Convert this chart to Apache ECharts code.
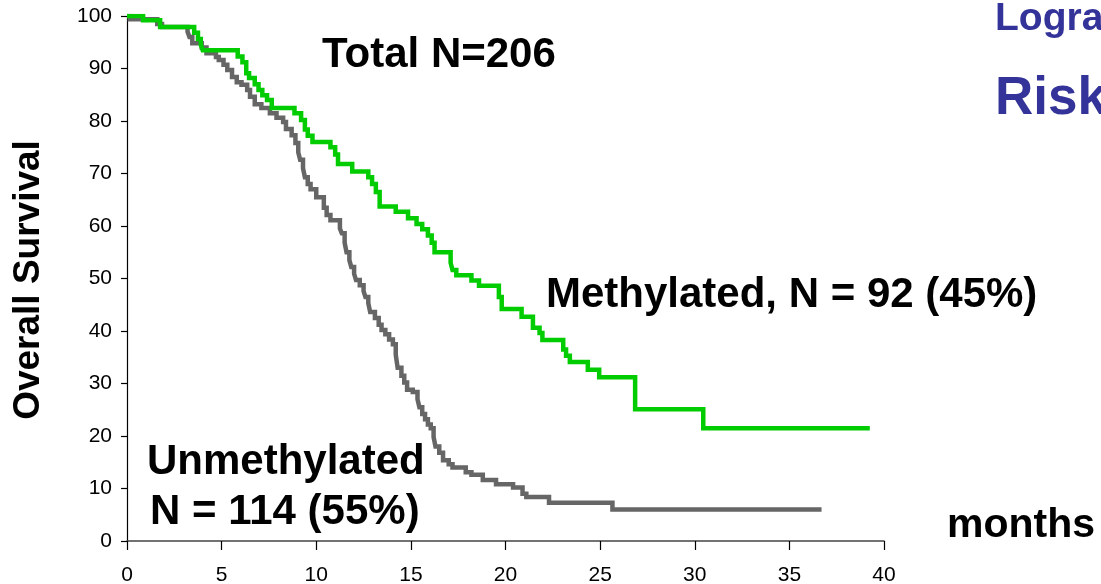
<!DOCTYPE html>
<html>
<head>
<meta charset="utf-8">
<script src="https://cdn.jsdelivr.net/npm/echarts@6/dist/echarts.min.js"></script>
<style>
html,body{margin:0;padding:0;background:#fff;}
#chart{width:1101px;height:584px;}
</style>
</head>
<body>
<div id="chart"></div>
<script>
// Kaplan-Meier step data (months, % surviving)
var methylatedTime = [0, 0.85, 1.75, 3.55, 3.75, 3.9, 4.0, 5.85, 6.1, 6.3, 6.45, 6.75, 6.95, 7.15, 7.4, 7.65, 8.85, 9.2, 9.4, 9.55, 9.8, 10.75, 11.0, 11.15, 11.9, 12.75, 12.95, 13.15, 13.35, 14.2, 14.85, 15.3, 15.6, 15.9, 16.1, 16.25, 17.1, 17.2, 17.4, 18.2, 18.6, 19.65, 19.8, 20.85, 21.45, 21.8, 21.95, 23.05, 23.2, 23.4, 24.35, 24.95, 26.85, 30.45, 39.25];
var methylatedSurv = [100, 99.2, 97.9, 96.8, 95.6, 94.5, 93.5, 92.3, 91.2, 89.1, 88.2, 87.0, 85.9, 84.9, 84.0, 82.5, 81.5, 80.2, 78.4, 77.2, 76.0, 75.0, 73.6, 71.8, 70.4, 69.3, 68.0, 66.5, 63.7, 62.7, 61.5, 60.4, 59.4, 58.2, 56.8, 55.0, 53.0, 51.6, 50.6, 49.6, 48.6, 46.5, 44.2, 42.7, 40.6, 39.6, 38.3, 36.5, 35.3, 34.1, 32.6, 31.2, 25.1, 21.5, 21.5];

var unmethylatedTime = [0, 0.15, 1.6, 1.85, 3.2, 3.3, 3.45, 3.95, 4.2, 4.7, 4.85, 5.1, 5.3, 5.55, 5.8, 6.05, 6.35, 6.5, 6.75, 7.1, 7.55, 7.9, 8.25, 8.4, 8.7, 8.9, 9.05, 9.15, 9.3, 9.4, 9.55, 9.7, 10.0, 10.4, 10.55, 10.75, 11.25, 11.35, 11.5, 11.6, 11.75, 11.85, 12.0, 12.1, 12.3, 12.5, 12.6, 12.75, 12.85, 13.1, 13.3, 13.45, 13.65, 13.85, 14.05, 14.2, 14.3, 14.5, 14.65, 14.8, 15.1, 15.35, 15.45, 15.6, 15.75, 15.9, 16.05, 16.2, 16.3, 16.5, 16.7, 17.0, 17.2, 17.9, 18.2, 18.8, 19.5, 20.4, 20.9, 21.1, 22.3, 25.65, 36.7];
var unmethylatedSurv = [100, 99.4, 98.5, 97.9, 97.0, 96.0, 94.8, 94.0, 92.9, 92.2, 91.6, 90.7, 89.7, 88.4, 87.4, 86.9, 85.9, 84.6, 83.2, 82.5, 81.5, 80.6, 79.8, 78.5, 77.3, 75.8, 74.0, 72.6, 71.0, 69.3, 68.0, 67.0, 65.5, 63.5, 62.1, 61.1, 59.5, 58.6, 56.8, 55.0, 53.5, 52.2, 50.9, 49.7, 48.7, 47.6, 46.5, 45.3, 43.6, 42.5, 41.2, 40.2, 39.4, 38.4, 37.5, 35.5, 33.0, 31.5, 30.2, 28.8, 28.4, 27.0, 25.5, 24.2, 23.2, 22.2, 21.5, 19.8, 18.0, 16.8, 15.4, 14.6, 14.0, 13.1, 12.6, 11.6, 10.8, 10.2, 9.0, 8.4, 7.3, 6.0, 6.0];

var xAxisRange = [0, 40, 5];   // min, max, interval (months)
var yAxisRange = [0, 100, 10]; // min, max, interval (%)

var FONT = '"Liberation Sans", Arial, sans-serif';

function pairs(t, s) {
  var out = [];
  for (var i = 0; i < t.length; i++) out.push([t[i], s[i]]);
  return out;
}

var chart = echarts.init(document.getElementById('chart'), null, {renderer: 'canvas'});

function txt(x, y, text, size, color, align, rotation) {
  var o = {
    type: 'text', x: x, y: y, silent: true,
    style: {
      text: text, fill: color || '#000',
      font: 'bold ' + size + 'px ' + FONT,
      align: align || 'left', verticalAlign: 'middle'
    }
  };
  if (rotation) o.rotation = rotation;
  return o;
}

var option = {
  animation: false,
  backgroundColor: '#ffffff',
  grid: {left: 127, right: 217, top: 16, bottom: 43, containLabel: false, outerBoundsMode: 'none'},
  xAxis: {
    type: 'value',
    min: xAxisRange[0], max: xAxisRange[1], interval: xAxisRange[2],
    axisLine: {show: true, onZero: false, lineStyle: {color: '#444', width: 1.5}},
    axisTick: {show: true, length: 9, lineStyle: {color: '#000', width: 1.2}},
    axisLabel: {margin: 24, color: '#000', fontSize: 21, fontFamily: FONT},
    splitLine: {show: false}
  },
  yAxis: {
    type: 'value',
    min: yAxisRange[0], max: yAxisRange[1], interval: yAxisRange[2],
    offset: 3,
    axisLine: {show: true, lineStyle: {color: '#000', width: 1.2}},
    axisTick: {show: true, length: 6, lineStyle: {color: '#000', width: 1.2}},
    axisLabel: {margin: 12, color: '#000', fontSize: 21, fontFamily: FONT},
    splitLine: {show: false}
  },
  series: [
    {
      name: 'Unmethylated',
      type: 'line', step: 'end', showSymbol: false, symbol: 'none',
      data: pairs(unmethylatedTime, unmethylatedSurv),
      lineStyle: {color: '#666666', width: 4.5, cap: 'butt', join: 'miter'},
      z: 2
    },
    {
      name: 'Methylated',
      type: 'line', step: 'end', showSymbol: false, symbol: 'none',
      data: pairs(methylatedTime, methylatedSurv),
      lineStyle: {color: '#00cc00', width: 4.5, cap: 'butt', join: 'miter'},
      z: 3
    }
  ],
  graphic: [
    txt(29, 280, 'Overall Survival', 37, '#000', 'center', Math.PI / 2),
    txt(322, 55, 'Total N=206', 42, '#000'),
    txt(546, 295, 'Methylated, N = 92 (45%)', 42, '#000'),
    txt(147, 462, 'Unmethylated', 42, '#000'),
    txt(150, 512, 'N = 114 (55%)', 42, '#000'),
    txt(947, 526, 'months', 41, '#000'),
    txt(995, 19, 'Logrank', 39, '#333399'),
    txt(995, 99, 'Risk', 53, '#333399')
  ]
};
chart.setOption(option);
</script>
</body>
</html>
